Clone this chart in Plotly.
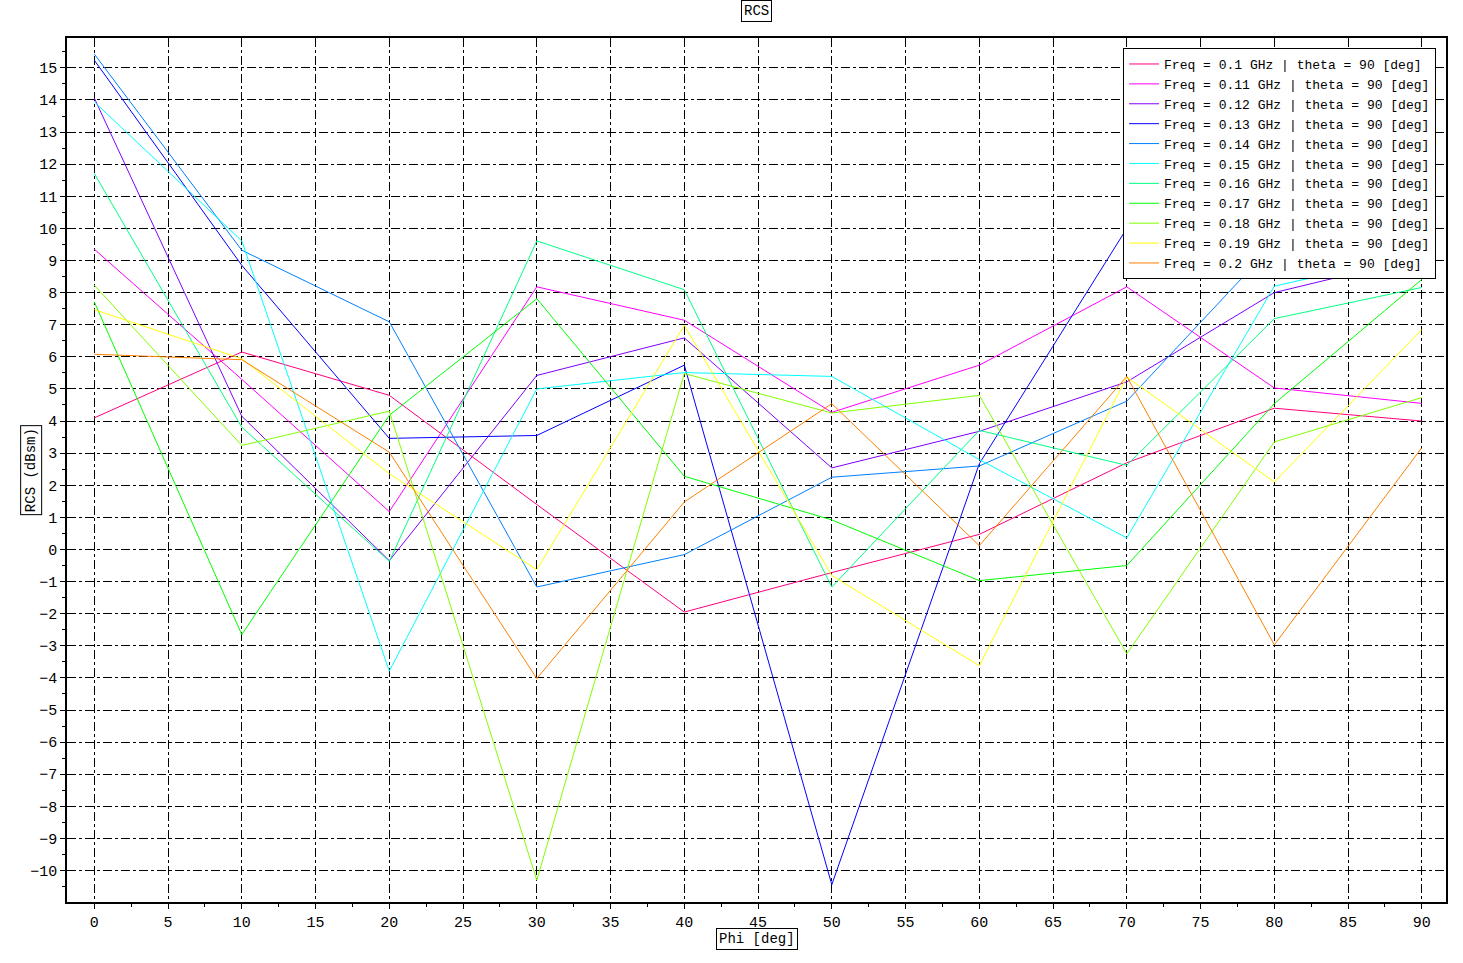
import plotly.graph_objects as go

phi = [0, 10, 20, 30, 40, 50, 60, 70, 80, 90]
freqs = ["0.1", "0.11", "0.12", "0.13", "0.14", "0.15", "0.16", "0.17", "0.18", "0.19", "0.2"]
colors = ["#ff0080", "#ff00ff", "#8000ff", "#0000ff", "#0080ff", "#00ffff",
          "#00ff80", "#00ff00", "#80ff00", "#ffff00", "#ff8000"]

rcs_010 = [4.1, 6.15, 4.8, 1.4, -1.95, -0.72, 0.47, 2.7, 4.4, 4.0]
rcs_011 = [9.35, 5.3, 1.18, 8.18, 7.14, 4.27, 5.74, 8.18, 5.03, 4.55]
rcs_012 = [14.06, 4.15, -0.35, 5.42, 6.59, 2.54, 3.68, 5.22, 8.0, 9.11]
rcs_013 = [15.24, 8.85, 3.46, 3.55, 5.74, -10.44, 2.67, 10.0, 9.25, 9.11]
rcs_014 = [15.43, 9.32, 7.09, -1.17, -0.16, 2.25, 2.6, 4.62, 9.53, 10.33]
rcs_015 = [13.94, 9.61, -3.79, 5.0, 5.51, 5.39, 2.8, 0.36, 8.2, 9.24]
rcs_016 = [11.71, 3.81, -0.37, 9.61, 8.09, -1.17, 3.71, 2.62, 7.19, 8.16]
rcs_017 = [7.71, -2.65, 4.18, 7.81, 2.28, 0.92, -0.97, -0.5, 4.54, 8.41]
rcs_018 = [8.23, 3.24, 4.31, -10.3, 5.48, 4.25, 4.8, -3.25, 3.35, 4.73]
rcs_019 = [7.47, 5.94, 2.36, -0.63, 6.98, -0.81, -3.62, 5.37, 2.1, 6.85]
rcs_020 = [6.08, 5.91, 3.03, -4.02, 1.48, 4.54, 0.12, 5.39, -2.97, 3.17]

series = [rcs_010, rcs_011, rcs_012, rcs_013, rcs_014, rcs_015,
          rcs_016, rcs_017, rcs_018, rcs_019, rcs_020]

FONT = "Liberation Mono"

fig = go.Figure()
for f, c, vals in zip(freqs, colors, series):
    fig.add_trace(go.Scatter(
        x=phi, y=vals, mode="lines",
        name=f"Freq = {f} GHz | theta = 90 [deg]",
        line=dict(color=c, width=1),
    ))

axis_common = dict(
    showline=True, linecolor="black", linewidth=1.5, mirror=True,
    showgrid=True, gridcolor="black", gridwidth=1, griddash="dashdot",
    zeroline=False, ticks="outside", ticklen=5, tickcolor="black",
    tickfont=dict(family=FONT, size=15, color="black"),
)

fig.update_xaxes(range=[-1.85, 91.64], tick0=0, dtick=5,
                 minor=dict(ticks="outside", ticklen=3, dtick=2.5, tickcolor="black", showgrid=False),
                 **axis_common)
fig.update_yaxes(range=[-10.98, 15.93], tick0=0, dtick=1,
                 minor=dict(ticks="outside", ticklen=3, dtick=0.5, tickcolor="black", showgrid=False),
                 **axis_common)

box = dict(bordercolor="black", borderwidth=1, bgcolor="white", borderpad=2,
           showarrow=False, xref="paper", yref="paper",
           font=dict(family=FONT, size=14, color="black"))
fig.add_annotation(text="RCS", x=0.5, y=1.031, xanchor="center", yanchor="middle", **box)
fig.add_annotation(text="Phi [deg]", x=0.5, y=-0.043, xanchor="center", yanchor="middle", **box)
fig.add_annotation(text="RCS (dBsm)", x=-0.026, y=0.5, xanchor="center", yanchor="middle",
                   textangle=-90, **box)

fig.update_layout(
    width=1463, height=963,
    margin=dict(l=67, r=17, t=38, b=61),
    plot_bgcolor="white", paper_bgcolor="white",
    showlegend=True,
    legend=dict(x=0.9928, y=0.9884, xanchor="right", yanchor="top",
                bgcolor="white", bordercolor="black", borderwidth=1,
                font=dict(family=FONT, size=13, color="black"),
                itemwidth=30, tracegroupgap=0),
)

fig.write_html("out.html",
               config={"displayModeBar": False},
               post_script="document.body.style.margin='0px';document.body.style.overflow='hidden';")
